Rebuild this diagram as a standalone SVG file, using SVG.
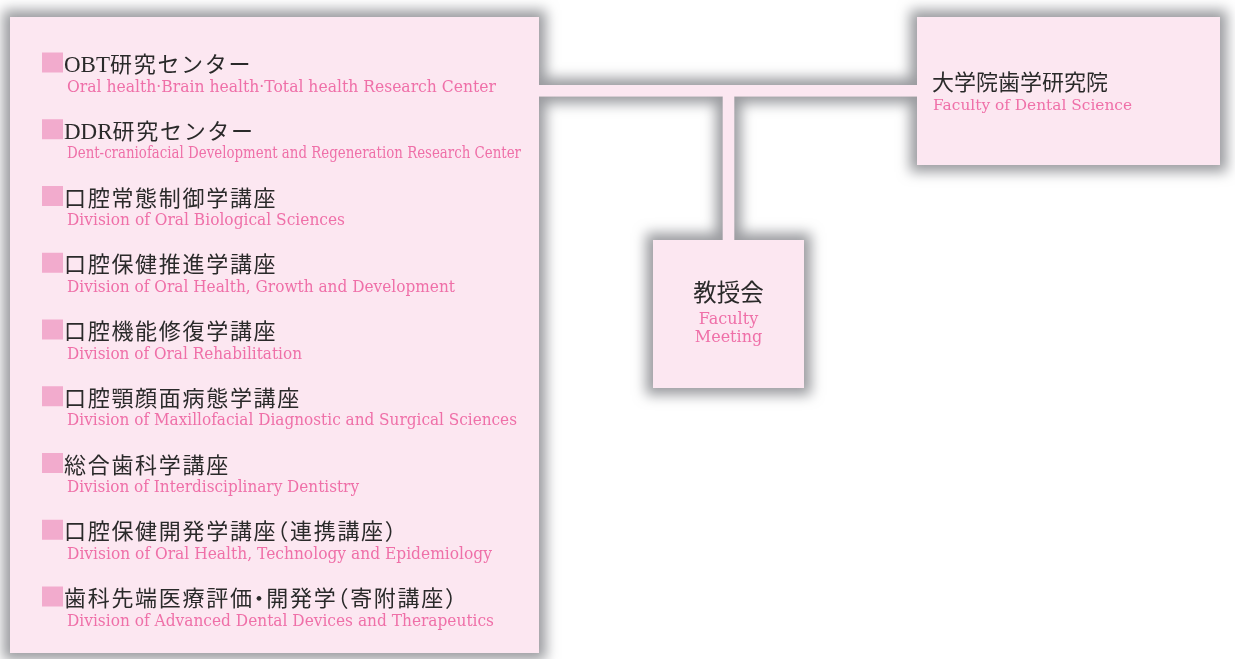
<svg xmlns="http://www.w3.org/2000/svg" width="1235" height="659" viewBox="0 0 1235 659">
<defs>
<filter id="halo" filterUnits="userSpaceOnUse" x="-20" y="-20" width="1275" height="699">
<feMorphology in="SourceAlpha" operator="dilate" radius="7" result="d"/>
<feGaussianBlur in="d" stdDeviation="6.5" result="b"/>
<feFlood flood-color="#9a9b9f"/>
<feComposite in2="b" operator="in" result="s"/>
<feMerge><feMergeNode in="s"/><feMergeNode in="SourceGraphic"/></feMerge>
</filter>
<style>
.box{fill:#fce7f1}
.link{fill:none;stroke:#fce7f1;stroke-width:11.5;stroke-linecap:butt}
.sq{fill:#f2abcd}
.ja{font-family:"Liberation Serif","Noto Sans CJK JP",sans-serif;font-size:22px;fill:#2a2a2a;letter-spacing:1.7px}
.lat{letter-spacing:0;font-size:23px}
.jc{font-family:"Noto Sans CJK JP",sans-serif;font-size:22.5px;fill:#2a2a2a}
.en{font-family:"DejaVu Serif",serif;font-size:16px;fill:#ef6fa8}
.half{font-feature-settings:"halt"}
</style>
</defs>
<rect width="1235" height="659" fill="#ffffff"/>
<g filter="url(#halo)">
<g id="connectors">
<path class="link" d="M538 90.75 H918"/>
<path class="link" d="M728.5 96 V241"/>
</g>
<g id="node-divisions">
<rect class="box" x="10" y="17" width="529" height="636"/>
<g id="item-obt">
<rect class="sq" x="42" y="52.5" width="21" height="20"/>
<text class="ja" x="64" y="72"><tspan class="lat">OBT</tspan>研究センター</text>
<text class="en" x="67" y="91.5" textLength="429" lengthAdjust="spacingAndGlyphs">Oral health·Brain health·Total health Research Center</text>
</g>
<g id="item-ddr">
<rect class="sq" x="42" y="119.25" width="21" height="20"/>
<text class="ja" x="64" y="138.75"><tspan class="lat">DDR</tspan>研究センター</text>
<text class="en" x="67" y="158.25" textLength="454" lengthAdjust="spacingAndGlyphs">Dent-craniofacial Development and Regeneration Research Center</text>
</g>
<g id="item-bio">
<rect class="sq" x="42" y="186" width="21" height="20"/>
<text class="ja" x="64" y="205.5">口腔常態制御学講座</text>
<text class="en" x="67" y="225" textLength="278" lengthAdjust="spacingAndGlyphs">Division of Oral Biological Sciences</text>
</g>
<g id="item-growth">
<rect class="sq" x="42" y="252.75" width="21" height="20"/>
<text class="ja" x="64" y="272.25">口腔保健推進学講座</text>
<text class="en" x="67" y="291.75" textLength="388" lengthAdjust="spacingAndGlyphs">Division of Oral Health, Growth and Development</text>
</g>
<g id="item-rehab">
<rect class="sq" x="42" y="319.5" width="21" height="20"/>
<text class="ja" x="64" y="339">口腔機能修復学講座</text>
<text class="en" x="67" y="358.5" textLength="235" lengthAdjust="spacingAndGlyphs">Division of Oral Rehabilitation</text>
</g>
<g id="item-maxillo">
<rect class="sq" x="42" y="386.25" width="21" height="20"/>
<text class="ja" x="64" y="405.75">口腔顎顔面病態学講座</text>
<text class="en" x="67" y="425.25" textLength="450" lengthAdjust="spacingAndGlyphs">Division of Maxillofacial Diagnostic and Surgical Sciences</text>
</g>
<g id="item-inter">
<rect class="sq" x="42" y="453" width="21" height="20"/>
<text class="ja" x="64" y="472.5">総合歯科学講座</text>
<text class="en" x="67" y="492" textLength="292" lengthAdjust="spacingAndGlyphs">Division of Interdisciplinary Dentistry</text>
</g>
<g id="item-epi">
<rect class="sq" x="42" y="519.75" width="21" height="20"/>
<text class="ja" x="64" y="539.25">口腔保健開発学講座<tspan class="half">（</tspan>連携講座<tspan class="half">）</tspan></text>
<text class="en" x="67" y="558.75" textLength="425" lengthAdjust="spacingAndGlyphs">Division of Oral Health, Technology and Epidemiology</text>
</g>
<g id="item-devices">
<rect class="sq" x="42" y="586.5" width="21" height="20"/>
<text class="ja" x="64" y="606">歯科先端医療評価<tspan class="half">・</tspan>開発学<tspan class="half">（</tspan>寄附講座<tspan class="half">）</tspan></text>
<text class="en" x="67" y="625.5" textLength="427" lengthAdjust="spacingAndGlyphs">Division of Advanced Dental Devices and Therapeutics</text>
</g>
</g>
<g id="node-faculty">
<rect class="box" x="917" y="17" width="303" height="148"/>
<text class="jc" x="932" y="90" style="font-size:22px">大学院歯学研究院</text>
<text class="en" x="933" y="109.5" textLength="199" lengthAdjust="spacingAndGlyphs" style="font-size:15px">Faculty of Dental Science</text>
</g>
<g id="node-meeting">
<rect class="box" x="653" y="240" width="151" height="148"/>
<text class="jc" x="728.5" y="301" text-anchor="middle" style="font-size:23.5px">教授会</text>
<text class="en" x="728.5" y="324" text-anchor="middle" style="font-size:16px">Faculty</text>
<text class="en" x="728.5" y="341.7" text-anchor="middle" style="font-size:16px">Meeting</text>
</g>
</g>
</svg>
